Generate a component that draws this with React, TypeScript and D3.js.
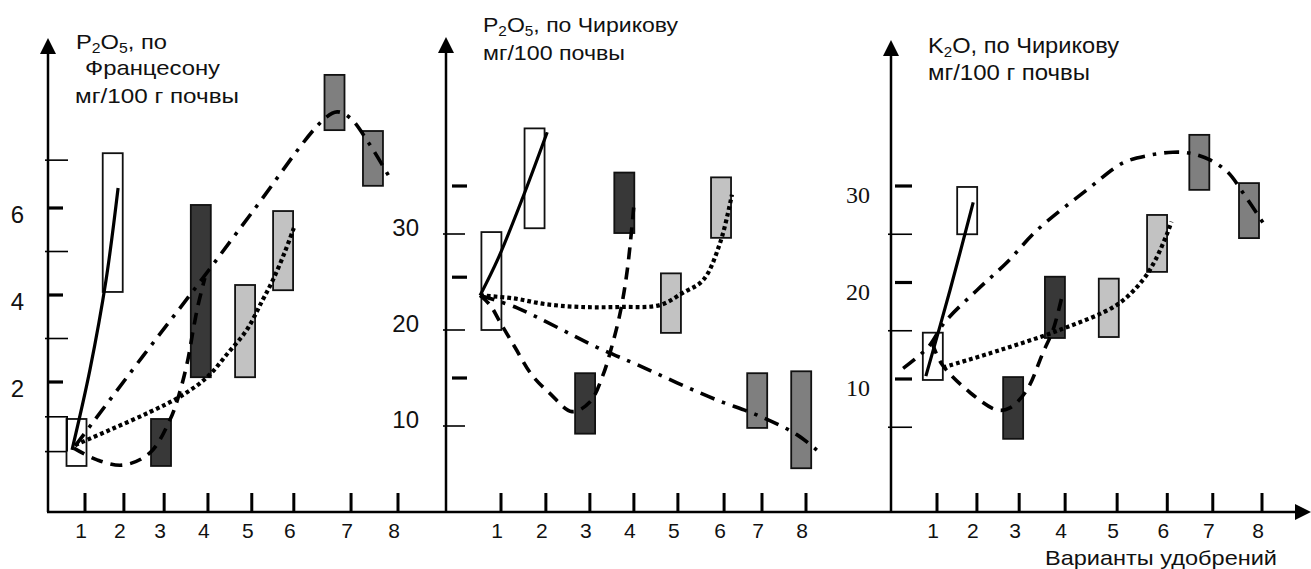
import React from "react";
import * as d3 from "d3";

// variants of fertiliser, same fill order in all three panels
const variantLabels = ["1", "2", "3", "4", "5", "6", "7", "8"];
const barFills = ["#ffffff", "#ffffff", "#383838", "#383838", "#c2c2c2", "#c2c2c2", "#7f7f7f", "#7f7f7f"];

// ---- panel 1: P2O5 по Францесону
const p1TickX = [1, 1.87, 2.77, 3.75, 4.73, 5.67, 6.95, 8];
const p1BarX = [0.81, 1.62, 2.7, 3.59, 4.58, 5.43, 6.58, 7.44];
const p1BarLo = [0.07, 4.07, 0.07, 2.11, 2.11, 4.11, 7.79, 6.51];
const p1BarHi = [1.15, 7.26, 1.15, 6.07, 4.23, 5.93, 9.06, 7.77];
const p1BoldTicks = [6, 4, 2];
const p1ThinTicks = [7.1, 5, 3, 1.2, 0.4];
const p1Labels = [6, 4, 2];
const p1Bracket = { x: 0.6, lo: 0.4, hi: 1.2 };
const p1Solid = [[0.71, 0.44], [1.11, 2.28], [1.47, 4.34], [1.74, 6.46]];
const p1Dashed = [[0.75, 0.48], [1.27, 0.21], [1.85, 0.09], [2.45, 0.37], [2.9, 1.13], [3.12, 1.77], [3.3, 2.51], [3.42, 3.2], [3.53, 3.77], [3.68, 4.39]];
const p1DashDot = [[0.78, 0.53], [2.3, 2.6], [3.57, 4.3], [4.73, 5.89], [6.32, 8.02], [6.64, 8.21], [6.93, 8.07], [7.33, 7.52], [7.82, 6.69]];
const p1Dotted = [[0.78, 0.55], [1.56, 0.9], [2.45, 1.31], [3.12, 1.66], [3.73, 2.11], [4.2, 2.67], [4.62, 3.2], [4.96, 3.86], [5.2, 4.34], [5.47, 4.99], [5.67, 5.54]];

// ---- panel 2: P2O5 по Чирикову
const p2TickX = [1, 2.03, 3.04, 4.05, 5.06, 6.12, 6.99, 8];
const p2BarX = [0.78, 1.77, 2.93, 3.83, 4.9, 6.05, 6.88, 7.89];
const p2BarLo = [20.0, 30.6, 9.2, 30.1, 19.7, 29.6, 9.8, 5.6];
const p2BarHi = [30.2, 41.0, 15.5, 36.4, 25.9, 35.9, 15.5, 15.7];
const p2BoldTicks = [35, 25.5, 15];
const p2ThinTicks = [30, 20, 10];
const p2Labels = [30, 20, 10];
const p2Solid = [[0.52, 23.6], [0.93, 27.4], [1.5, 33.8], [2.06, 40.6]];
const p2Dashed = [[0.52, 23.6], [0.75, 22.6], [0.98, 20.8], [1.32, 18.2], [1.71, 15.3], [2.12, 13.4], [2.63, 11.5], [3.04, 12.5], [3.34, 15.3], [3.55, 18.4], [3.74, 21.9], [3.9, 26.3], [4.05, 33.0]];
const p2DashDot = [[0.52, 23.6], [1.37, 22.3], [3.2, 18.2], [4.12, 16.4], [5.04, 14.5], [5.96, 12.7], [6.9, 11.1], [7.79, 9.1], [8.32, 7.2]];
const p2Dotted = [[0.52, 23.6], [1.28, 23.3], [2.01, 22.7], [2.81, 22.4], [3.73, 22.4], [4.65, 22.6], [5.18, 23.9], [5.64, 25.2], [6.03, 29.1], [6.3, 34.1]];

// ---- panel 3: K2O по Чирикову
const p3TickX = [1, 1.86, 2.77, 3.76, 4.88, 5.96, 6.94, 8];
const p3BarX = [0.91, 1.65, 2.64, 3.54, 4.7, 5.74, 6.65, 7.72];
const p3BarLo = [9.9, 25.0, 3.8, 14.25, 14.35, 21.1, 29.6, 24.6];
const p3BarHi = [14.8, 29.9, 10.2, 20.6, 20.4, 27.0, 35.3, 30.3];
const p3BoldTicks = [30, 20, 10];
const p3ThinTicks = [25, 15, 5];
const p3Labels = [30, 20, 10];
const p3Solid = [[0.76, 10.3], [1.28, 19.2], [1.78, 28.3]];
const p3Dashed = [[0.89, 13.8], [1.11, 11.5], [1.71, 8.6], [2.29, 6.8], [2.57, 7.0], [2.94, 8.9], [3.28, 12.7], [3.5, 15.1], [3.69, 18.5]];
const p3DashDot = [[0.27, 11.1], [0.81, 13.3], [1.17, 15.9], [1.86, 19.2], [2.51, 22.1], [3.15, 25.4], [4.23, 29.6], [5.01, 32.4], [5.59, 33.2], [6.08, 33.5], [6.45, 33.4], [6.88, 32.7], [7.27, 31.4], [7.59, 29.3], [8.02, 26.2]];
const p3Dotted = [[1.13, 11.2], [2.36, 13.0], [3.65, 15.1], [4.88, 17.7], [5.44, 20.3], [5.7, 22.3], [5.96, 25.1], [6.05, 26.3]];

const W = 1311;
const H = 569;
const baseY = 512;
const SANS = "'Liberation Sans', Arial, sans-serif";
const SERIF = "'Liberation Serif', 'Times New Roman', serif";

const lineStyles = {
  solid: { dash: undefined, w: 3.2 },
  dashed: { dash: "12 8", w: 3.6 },
  dotted: { dash: "3.8 3", w: 4.2 },
  dashdot: { dash: "15 8 3.5 8", w: 3.6 },
};

const panels = [
  {
    axisX: 48, tip: 38, xr: [85, 398], yd: [2, 6], yr: [382, 208],
    ticksX: p1TickX, barX: p1BarX, lo: p1BarLo, hi: p1BarHi,
    bold: p1BoldTicks, thin: p1ThinTicks, labels: p1Labels,
    boldX: [0, 15], thinX: [-3, 20], labelX: 24, labelDy: 6, labelFont: SANS,
    lines: { solid: p1Solid, dashed: p1Dashed, dotted: p1Dotted, dashdot: p1DashDot },
  },
  {
    axisX: 446, tip: 37, xr: [501, 806], yd: [10, 30], yr: [426, 234],
    ticksX: p2TickX, barX: p2BarX, lo: p2BarLo, hi: p2BarHi,
    bold: p2BoldTicks, thin: p2ThinTicks, labels: p2Labels,
    boldX: [6, 21], thinX: [-3, 19], labelX: 27, labelDy: -7, labelFont: SANS,
    lines: { solid: p2Solid, dashed: p2Dashed, dotted: p2Dotted, dashdot: p2DashDot },
  },
  {
    axisX: 891, tip: 40, xr: [937, 1262], yd: [10, 30], yr: [379, 186],
    ticksX: p3TickX, barX: p3BarX, lo: p3BarLo, hi: p3BarHi,
    bold: p3BoldTicks, thin: p3ThinTicks, labels: p3Labels,
    boldX: [4, 21], thinX: [-3, 21], labelX: 21, labelDy: 9, labelFont: SERIF,
    lines: { solid: p3Solid, dashed: p3Dashed, dotted: p3Dotted, dashdot: p3DashDot },
  },
];

const Panel = ({ p }: { p: any }) => {
  const x = d3.scaleLinear().domain([1, 8]).range(p.xr);
  const y = d3.scaleLinear().domain(p.yd).range(p.yr);
  const line = d3
    .line<number[]>()
    .x((d) => x(d[0]))
    .y((d) => y(d[1]))
    .curve(d3.curveCatmullRom.alpha(0.5));
  const bw = 20;
  return (
    <g>
      {/* y axis with arrow */}
      <line x1={p.axisX} x2={p.axisX} y1={baseY} y2={p.tip + 10} stroke="#000" strokeWidth={2.5} />
      <path d={`M${p.axisX},${p.tip} L${p.axisX - 8},${p.tip + 16} L${p.axisX + 8},${p.tip + 16} Z`} fill="#000" />
      {p.thin.map((v: number, i: number) => (
        <line key={"t" + i} x1={p.axisX + p.thinX[0]} x2={p.axisX + p.thinX[1]} y1={y(v)} y2={y(v)} stroke="#000" strokeWidth={1.6} />
      ))}
      {p.bold.map((v: number, i: number) => (
        <line key={"b" + i} x1={p.axisX + p.boldX[0]} x2={p.axisX + p.boldX[1]} y1={y(v)} y2={y(v)} stroke="#000" strokeWidth={3.2} />
      ))}
      {p.labels.map((v: number, i: number) => (
        <text key={"l" + i} x={p.axisX - p.labelX} y={y(v) + p.labelDy} textAnchor="end" dominantBaseline="central"
          fontFamily={p.labelFont} fontSize={24} fill="#111">{v}</text>
      ))}
      {/* x ticks and labels */}
      {p.ticksX.map((v: number, i: number) => (
        <g key={"x" + i}>
          <line x1={x(v)} x2={x(v)} y1={baseY - 19} y2={baseY} stroke="#000" strokeWidth={3} />
          <text x={x(v) - 4} y={baseY + 26} textAnchor="middle" fontFamily={SANS} fontSize={21} fill="#111">
            {variantLabels[i]}
          </text>
        </g>
      ))}
      {/* bars */}
      {p.barX.map((v: number, i: number) => (
        <rect key={"r" + i} x={x(v) - bw / 2} y={y(p.hi[i])} width={bw} height={y(p.lo[i]) - y(p.hi[i])}
          fill={barFills[i]} stroke="#111" strokeWidth={1.8} />
      ))}
      {/* trend lines */}
      {Object.entries(p.lines).map(([k, pts]: [string, any]) => {
        const s = (lineStyles as any)[k];
        return (
          <path key={k} d={line(pts) || ""} fill="none" stroke="#000" strokeWidth={s.w}
            strokeDasharray={s.dash} strokeLinecap="butt" />
        );
      })}
    </g>
  );
};

export default function App() {
  const p1 = panels[0];
  const x1 = d3.scaleLinear().domain([1, 8]).range(p1.xr);
  const y1 = d3.scaleLinear().domain(p1.yd).range(p1.yr);
  return (
    <svg width={W} height={H} style={{ position: "absolute", left: 0, top: 0, background: "#fff" }}>
      <rect width={W} height={H} fill="#fff" />
      {/* common x axis */}
      <line x1={47} x2={1298} y1={baseY} y2={baseY} stroke="#000" strokeWidth={2.5} />
      <path d={`M1311,${baseY} L1295,${baseY - 8} L1295,${baseY + 8} Z`} fill="#000" />
      {panels.map((p, i) => (
        <Panel key={i} p={p} />
      ))}
      {/* small bracket beside first bar of panel 1 */}
      <line x1={x1(p1Bracket.x)} x2={x1(p1Bracket.x)} y1={y1(p1Bracket.hi)} y2={y1(p1Bracket.lo)} stroke="#000" strokeWidth={1.6} />

      {/* titles */}
      <g fontFamily={SANS} fill="#111">
        <text x={76} y={49} fontSize={21} textLength={91} lengthAdjust="spacingAndGlyphs">
          <tspan>P</tspan>
          <tspan fontSize={14} dy={4}>2</tspan>
          <tspan dy={-4}>O</tspan>
          <tspan fontSize={14} dy={4}>5</tspan>
          <tspan dy={-4}>, по</tspan>
        </text>
        <text x={85} y={75} fontSize={21} textLength={135} lengthAdjust="spacingAndGlyphs">Францесону</text>
        <text x={75} y={103} fontSize={21} textLength={164} lengthAdjust="spacingAndGlyphs">мг/100 г почвы</text>

        <text x={483} y={32} fontSize={21} textLength={195} lengthAdjust="spacingAndGlyphs">
          <tspan>P</tspan>
          <tspan fontSize={14} dy={4}>2</tspan>
          <tspan dy={-4}>O</tspan>
          <tspan fontSize={14} dy={4}>5</tspan>
          <tspan dy={-4}>, по Чирикову</tspan>
        </text>
        <text x={483} y={60} fontSize={21} textLength={142} lengthAdjust="spacingAndGlyphs">мг/100 почвы</text>

        <text x={928} y={53} fontSize={22} textLength={191} lengthAdjust="spacingAndGlyphs">
          <tspan>K</tspan>
          <tspan fontSize={14} dy={4}>2</tspan>
          <tspan dy={-4}>O, по Чирикову</tspan>
        </text>
        <text x={928} y={80} fontSize={22} textLength={162} lengthAdjust="spacingAndGlyphs">мг/100 г почвы</text>

        <text x={1045} y={565} fontSize={21} textLength={232} lengthAdjust="spacingAndGlyphs">Варианты удобрений</text>
      </g>
    </svg>
  );
}
